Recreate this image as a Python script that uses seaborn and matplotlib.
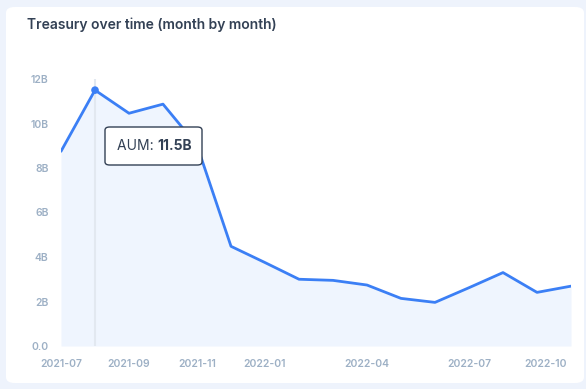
import matplotlib
matplotlib.use("Agg")
import matplotlib.pyplot as plt
import matplotlib.transforms as mtransforms
from matplotlib.patches import FancyBboxPatch
from matplotlib.text import Annotation
import seaborn as sns
import pandas as pd

months = ["2021-07", "2021-08", "2021-09", "2021-10", "2021-11", "2021-12",
          "2022-01", "2022-02", "2022-03", "2022-04", "2022-05", "2022-06",
          "2022-07", "2022-08", "2022-09", "2022-10"]
aum_billions = [8.75, 11.5, 10.46, 10.87, 9.02, 4.48, 3.75, 3.0, 2.95, 2.74,
                2.14, 1.96, 2.62, 3.3, 2.41, 2.69]
x_tick_labels = ["2021-07", "2021-09", "2021-11", "2022-01", "2022-04", "2022-07", "2022-10"]
y_ticks = [0, 2, 4, 6, 8, 10, 12]
y_tick_labels = ["0.0", "2B", "4B", "6B", "8B", "10B", "12B"]
hover_month = "2021-08"

sns.set_theme(style="white")
plt.rcParams["font.family"] = ["Inter", "DejaVu Sans"]

df = pd.DataFrame({"month": months, "aum": aum_billions})
df["pos"] = range(len(df))

W, H = 586, 389
fig = plt.figure(figsize=(W / 100, H / 100), dpi=100)
fig.patch.set_facecolor("#eef3fc")

# white card
card = FancyBboxPatch((6 / W, (H - 383) / H), 578 / W, 376 / H,
                      boxstyle="round,pad=0,rounding_size=0.015",
                      transform=fig.transFigure, facecolor="white",
                      edgecolor="none", zorder=-5)
fig.add_artist(card)

ax = fig.add_axes([61 / W, (H - 346) / H, 510 / W, 267 / H])
ax.set_zorder(1)
ax.set_facecolor("none")

line_color = "#3b7ff5"
sns.lineplot(data=df, x="pos", y="aum", ax=ax, color=line_color, linewidth=2.0, zorder=3)
ax.fill_between(df["pos"], df["aum"], 0, color="#eff5fe", zorder=1, linewidth=0)

hpos = months.index(hover_month)
hval = aum_billions[hpos]
ax.axvline(hpos, color="#e2e8f0", linewidth=1.5, zorder=2)
ax.scatter([hpos], [hval], s=30, color=line_color, zorder=4, edgecolors="none")

ax.set_xlim(0, len(months) - 1)
ax.set_ylim(0, 12)
for s in ax.spines.values():
    s.set_visible(False)
ax.set_xlabel("")
ax.set_ylabel("")

tick_color = "#9db0c5"
ax.set_yticks(y_ticks)
ax.set_yticklabels(y_tick_labels)
xt = [months.index(m) for m in x_tick_labels]
ax.set_xticks(xt)
ax.set_xticklabels(x_tick_labels)
ax.tick_params(axis="both", length=0, colors=tick_color, labelsize=7.5)
ax.tick_params(axis="y", pad=9)
ax.tick_params(axis="x", pad=9.5)
for lbl in ax.get_xticklabels() + ax.get_yticklabels():
    lbl.set_fontweight("semibold")
last = ax.get_xticklabels()[-1]
last.set_horizontalalignment("right")
last.set_transform(last.get_transform() +
                   mtransforms.ScaledTranslation(-4 / 100, 0, fig.dpi_scale_trans))

# title
fig.text(27 / W, 1 - 25 / H, "Treasury over time (month by month)", fontsize=10,
         fontweight="semibold", color="#334155", ha="left", va="center")

# tooltip
tip = FancyBboxPatch((105 / W, (H - 165) / H), 97 / W, 38 / H,
                     boxstyle="round,pad=0,rounding_size=0.008",
                     transform=fig.transFigure, facecolor="white",
                     edgecolor="#334155", linewidth=1.0, zorder=10)
fig.add_artist(tip)
t1 = fig.text(117 / W, 1 - 146 / H, "AUM: ", fontsize=10, color="#334155",
              ha="left", va="center", zorder=11)
t2 = Annotation(f"{hval:g}B", xy=(1, 0), xycoords=t1, ha="left", va="bottom",
                fontsize=10, fontweight="bold", color="#334155",
                annotation_clip=False)
t2.set_zorder(11)
fig.add_artist(t2)

fig.savefig("out.png", dpi=100, facecolor=fig.get_facecolor())
